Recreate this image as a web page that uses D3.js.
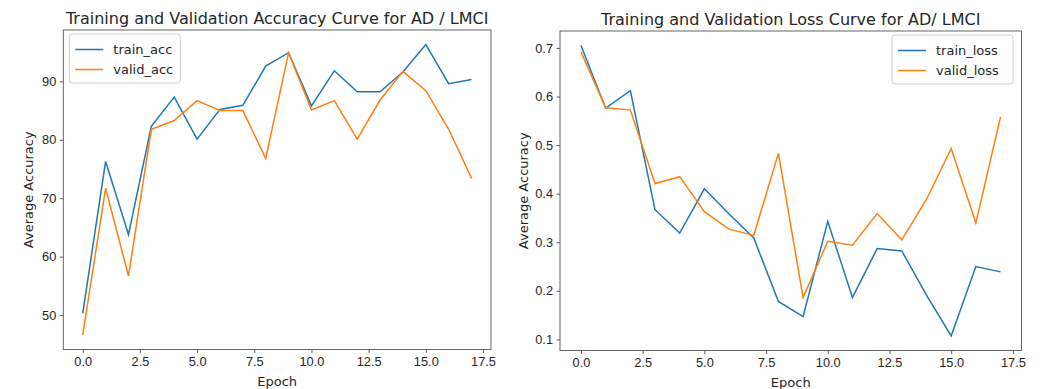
<!DOCTYPE html>
<html>
<head>
<meta charset="utf-8">
<script src="https://cdn.jsdelivr.net/npm/d3@7"></script>
<style>
  body { margin: 0; background: #fff; }
  svg { font-family: "DejaVu Sans", sans-serif; }
</style>
</head>
<body>
<svg id="chart" width="1041" height="389"></svg>
<script>
// 1: DATA
const epochs = d3.range(0, 18);
const xTicks = [0, 2.5, 5, 7.5, 10, 12.5, 15, 17.5];

const trainAcc = [50.3, 76.3, 63.8, 82.3, 87.3, 80.1, 85.2, 85.9, 92.6, 94.9, 85.8, 91.8, 88.2, 88.2, 91.6, 96.3, 89.6, 90.3];
const validAcc = [46.6, 71.7, 56.7, 81.8, 83.3, 86.7, 85.0, 85.0, 76.8, 94.9, 85.1, 86.7, 80.1, 86.8, 91.7, 88.4, 81.8, 73.4];
const accTicks = [50, 60, 70, 80, 90];

const trainLoss = [0.705, 0.576, 0.612, 0.367, 0.319, 0.410, 0.358, 0.309, 0.178, 0.147, 0.343, 0.186, 0.287, 0.282, 0.191, 0.107, 0.250, 0.239];
const validLoss = [0.692, 0.577, 0.572, 0.421, 0.435, 0.363, 0.327, 0.314, 0.483, 0.186, 0.302, 0.294, 0.359, 0.305, 0.388, 0.493, 0.340, 0.558];
const lossTicks = [0.1, 0.2, 0.3, 0.4, 0.5, 0.6, 0.7];

const svg = d3.select("#chart");
const blue = "#1f77b4", orange = "#ff7f0e";

// 2: ONE PANEL
function drawPanel(p) {
    const g = svg.append("g").attr("transform", `translate(${p.left},${p.top})`);
    const w = p.width, h = p.height;

    const x = d3.scaleLinear().domain([-0.85, 17.85]).range([0, w]);
    const all = p.series.flatMap(s => s.values);
    const lo = d3.min(all), hi = d3.max(all), pad = (hi - lo) * 0.05;
    const y = d3.scaleLinear().domain([lo - pad, hi + pad]).range([h, 0]);

    const line = d3.line().x((d, i) => x(epochs[i])).y(d => y(d));

    p.series.forEach(s => {
        g.append("path")
            .datum(s.values)
            .attr("fill", "none")
            .attr("stroke", s.color)
            .attr("stroke-width", 1.5)
            .attr("d", line);
    });

    // axes
    const xAxis = g.append("g")
        .attr("transform", `translate(0,${h})`)
        .call(d3.axisBottom(x).tickValues(xTicks).tickFormat(d3.format(".1f")).tickSize(3.5).tickPadding(3.5));
    const yAxis = g.append("g")
        .call(d3.axisLeft(y).tickValues(p.yTicks).tickFormat(p.yFormat).tickSize(3.5).tickPadding(3.5));
    [xAxis, yAxis].forEach(a => {
        a.select(".domain").remove();
        a.selectAll("line").attr("stroke", "#333").attr("stroke-width", 0.8);
        a.selectAll("text").attr("fill", "#262626").style("font-size", "12.8px");
    });

    // frame
    g.append("rect")
        .attr("width", w).attr("height", h)
        .attr("fill", "none").attr("stroke", "#555").attr("stroke-width", 0.9);

    // title and labels
    g.append("text")
        .attr("x", w / 2).attr("y", -6)
        .attr("text-anchor", "middle")
        .attr("fill", "#262626")
        .style("font-size", "16px")
        .text(p.title);

    g.append("text")
        .attr("x", w / 2).attr("y", h + 36)
        .attr("text-anchor", "middle")
        .attr("fill", "#262626")
        .style("font-size", "13px")
        .text("Epoch");

    g.append("text")
        .attr("transform", "rotate(-90)")
        .attr("x", -h / 2).attr("y", p.ylabelX)
        .attr("text-anchor", "middle")
        .attr("fill", "#262626")
        .style("font-size", "13px")
        .text("Average Accuracy");

    // legend
    const lg = g.append("g").attr("transform", `translate(${p.legendX},4)`);
    lg.append("rect")
        .attr("width", p.legendW).attr("height", 49).attr("rx", 3)
        .attr("fill", "#fff").attr("fill-opacity", 0.8)
        .attr("stroke", "#d0d0d0");
    p.series.forEach((s, i) => {
        const yy = 15.5 + i * 20;
        lg.append("line")
            .attr("x1", 6).attr("x2", 34).attr("y1", yy).attr("y2", yy)
            .attr("stroke", s.color).attr("stroke-width", 1.5);
        lg.append("text")
            .attr("x", 44).attr("y", yy)
            .attr("dy", "0.35em")
            .attr("fill", "#262626")
            .style("font-size", "13px")
            .text(s.name);
    });
}

drawPanel({
    left: 63.3, top: 30, width: 427.7, height: 319.5,
    title: "Training and Validation Accuracy Curve for AD / LMCI",
    series: [
        { name: "train_acc", values: trainAcc, color: blue },
        { name: "valid_acc", values: validAcc, color: orange }
    ],
    yTicks: accTicks, yFormat: d3.format("d"),
    ylabelX: -30, legendX: 6, legendW: 111
});

drawPanel({
    left: 560, top: 31, width: 461.5, height: 319.5,
    title: "Training and Validation Loss Curve for AD/ LMCI",
    series: [
        { name: "train_loss", values: trainLoss, color: blue },
        { name: "valid_loss", values: validLoss, color: orange }
    ],
    yTicks: lossTicks, yFormat: d3.format(".1f"),
    ylabelX: -32, legendX: 332, legendW: 121
});
</script>
</body>
</html>
